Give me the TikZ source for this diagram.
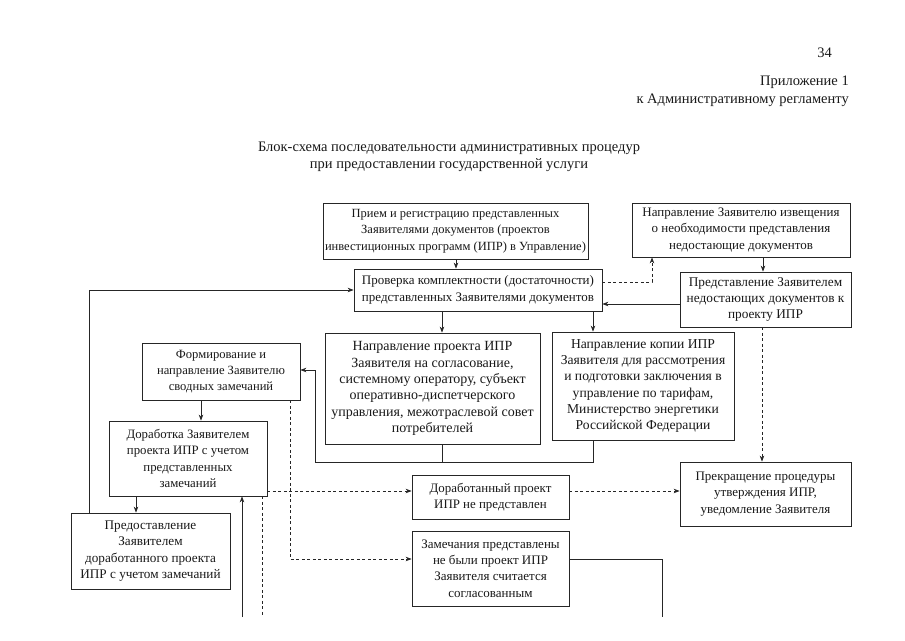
\documentclass[tikz,border=0pt]{standalone}
\usepackage{fontspec}
\setmainfont{Liberation Serif}
\usetikzlibrary{arrows.meta}
\tikzset{
  box/.style={draw=black!85, line width=0.8pt, rectangle, align=center, inner sep=2pt,
    font=\fontsize{13.2}{16.3}\selectfont, text=black!90},
  fsz/.style={font=\fontsize{#1}{16.3}\selectfont},
  arr/.style={draw=black!85, line width=0.7pt, -{Stealth[length=6pt,width=4.5pt]}},
  darr/.style={draw=black!85, line width=0.7pt, dash pattern=on 3pt off 2.5pt, -{Stealth[length=6pt,width=4.5pt]}},
  ln/.style={draw=black!85, line width=0.7pt},
  dln/.style={draw=black!85, line width=0.7pt, dash pattern=on 3pt off 2.5pt},
  hdr/.style={font=\fontsize{14.5}{17}\selectfont, text=black!90, inner sep=0pt}
}
\begin{document}
\begin{tikzpicture}[x=1pt,y=-1pt]
\useasboundingbox (0,0) rectangle (905,640);
\fill[white] (0,0) rectangle (905,640);
% header
\node[hdr, anchor=base east] (pg) at (832,57) {34};
\node[hdr, anchor=base east] (pr1) at (849,85) {Приложение 1};
\node[hdr, anchor=base east] (pr2) at (849,103) {к Административному регламенту};
\node[hdr, anchor=base] (t1) at (449,151) {Блок-схема последовательности административных процедур};
\node[hdr, anchor=base] (t2) at (449,168) {при предоставлении государственной услуги};
% boxes
\node[box, fsz=12.5, minimum width=259pt, minimum height=56pt] (A) at (455.5,231)
  {Прием и регистрацию представленных\\Заявителями документов (проектов\\инвестиционных программ (ИПР) в Управление)};
\node[box, fsz=13.0, minimum width=248pt, minimum height=42pt] (B) at (478,290)
  {Проверка комплектности (достаточности)\\представленных Заявителями документов};
\node[box, fsz=13.0, minimum width=218pt, minimum height=54pt] (C) at (741,230)
  {Направление Заявителю извещения\\о необходимости представления\\недостающие документов};
\node[box, fsz=13.3, minimum width=171pt, minimum height=55pt] (D) at (765.5,299.5)
  {Представление Заявителем\\недостающих документов к\\проекту ИПР};
\node[box, fsz=14.0, minimum width=215pt, minimum height=111pt] (E) at (432.5,388.5)
  {Направление проекта ИПР\\Заявителя на согласование,\\системному оператору, субъект\\оперативно-диспетчерского\\управления, межотраслевой совет\\потребителей};
\node[box, fsz=13.6, minimum width=182pt, minimum height=108pt] (F) at (643,386)
  {Направление копии ИПР\\Заявителя для рассмотрения\\и подготовки заключения в\\управление по тарифам,\\Министерство энергетики\\Российской Федерации};
\node[box, fsz=12.6, minimum width=158pt, minimum height=57pt] (G) at (221,371.5)
  {Формирование и\\направление Заявителю\\сводных замечаний};
\node[box, fsz=12.8, minimum width=158pt, minimum height=75pt] (H) at (188,458.5)
  {Доработка Заявителем\\проекта ИПР с учетом\\представленных\\замечаний};
\node[box, fsz=13.2, minimum width=159pt, minimum height=76pt] (I) at (150.5,551)
  {Предоставление\\Заявителем\\доработанного проекта\\ИПР с учетом замечаний};
\node[box, fsz=12.9, minimum width=157pt, minimum height=44pt] (J) at (490.5,497)
  {Доработанный проект\\ИПР не представлен};
\node[box, fsz=13.0, minimum width=157pt, minimum height=75pt] (K) at (490.5,568.5)
  {Замечания представлены\\не были проект ИПР\\Заявителя считается\\согласованным};
\node[box, fsz=13.0, minimum width=171pt, minimum height=64pt] (L) at (765.5,494)
  {Прекращение процедуры\\утверждения ИПР,\\уведомление Заявителя};
% helper coordinates
\coordinate (xAB) at (456,0);
\coordinate (bc) at (652,282);
\coordinate (db) at (0,304);
\coordinate (xCD) at (763,0);
\coordinate (xDL) at (762,0);
\coordinate (xE) at (442,0);
\coordinate (xF) at (593,0);
\coordinate (efg) at (315,462);
\coordinate (gin) at (0,370);
\coordinate (xGH) at (201,0);
\coordinate (xHI) at (136,0);
\coordinate (xIB) at (89,0);
\coordinate (xGK) at (290,0);
\coordinate (yK) at (0,559);
\coordinate (yJ) at (0,491);
\coordinate (dn1) at (262,617);
\coordinate (up1) at (242,617);
\coordinate (kr) at (662,559);
\coordinate (krd) at (662,617);
% connectors
\draw[arr] (A.south -| xAB) -- (B.north -| xAB);
\draw[darr] (B.east |- bc) -- (bc) -- (C.south -| bc);
\draw[arr] (C.south -| xCD) -- (D.north -| xCD);
\draw[arr] (D.west |- db) -- (B.east |- db);
\draw[darr] (D.south -| xDL) -- (L.north -| xDL);
\draw[arr] (B.south -| xE) -- (E.north -| xE);
\draw[arr] (B.south -| xF) -- (F.north -| xF);
\draw[ln] (E.south -| xE) -- (xE |- efg);
\draw[arr] (F.south -| xF) -- (xF |- efg) -- (efg) -- (efg |- gin) -- (G.east |- gin);
\draw[arr] (G.south -| xGH) -- (H.north -| xGH);
\draw[arr] (H.south -| xHI) -- (I.north -| xHI);
\draw[arr] (I.north -| xIB) |- (B.west);
\draw[darr] (G.south -| xGK) |- (K.west |- yK);
\draw[darr] (H.east |- yJ) -- (J.west |- yJ);
\draw[darr] (J.east |- yJ) -- (L.west |- yJ);
\draw[dln] (H.south -| dn1) -- (dn1);
\draw[arr] (up1) -- (H.south -| up1);
\draw[ln] (K.east |- yK) -- (kr) -- (krd);
\end{tikzpicture}
\end{document}
